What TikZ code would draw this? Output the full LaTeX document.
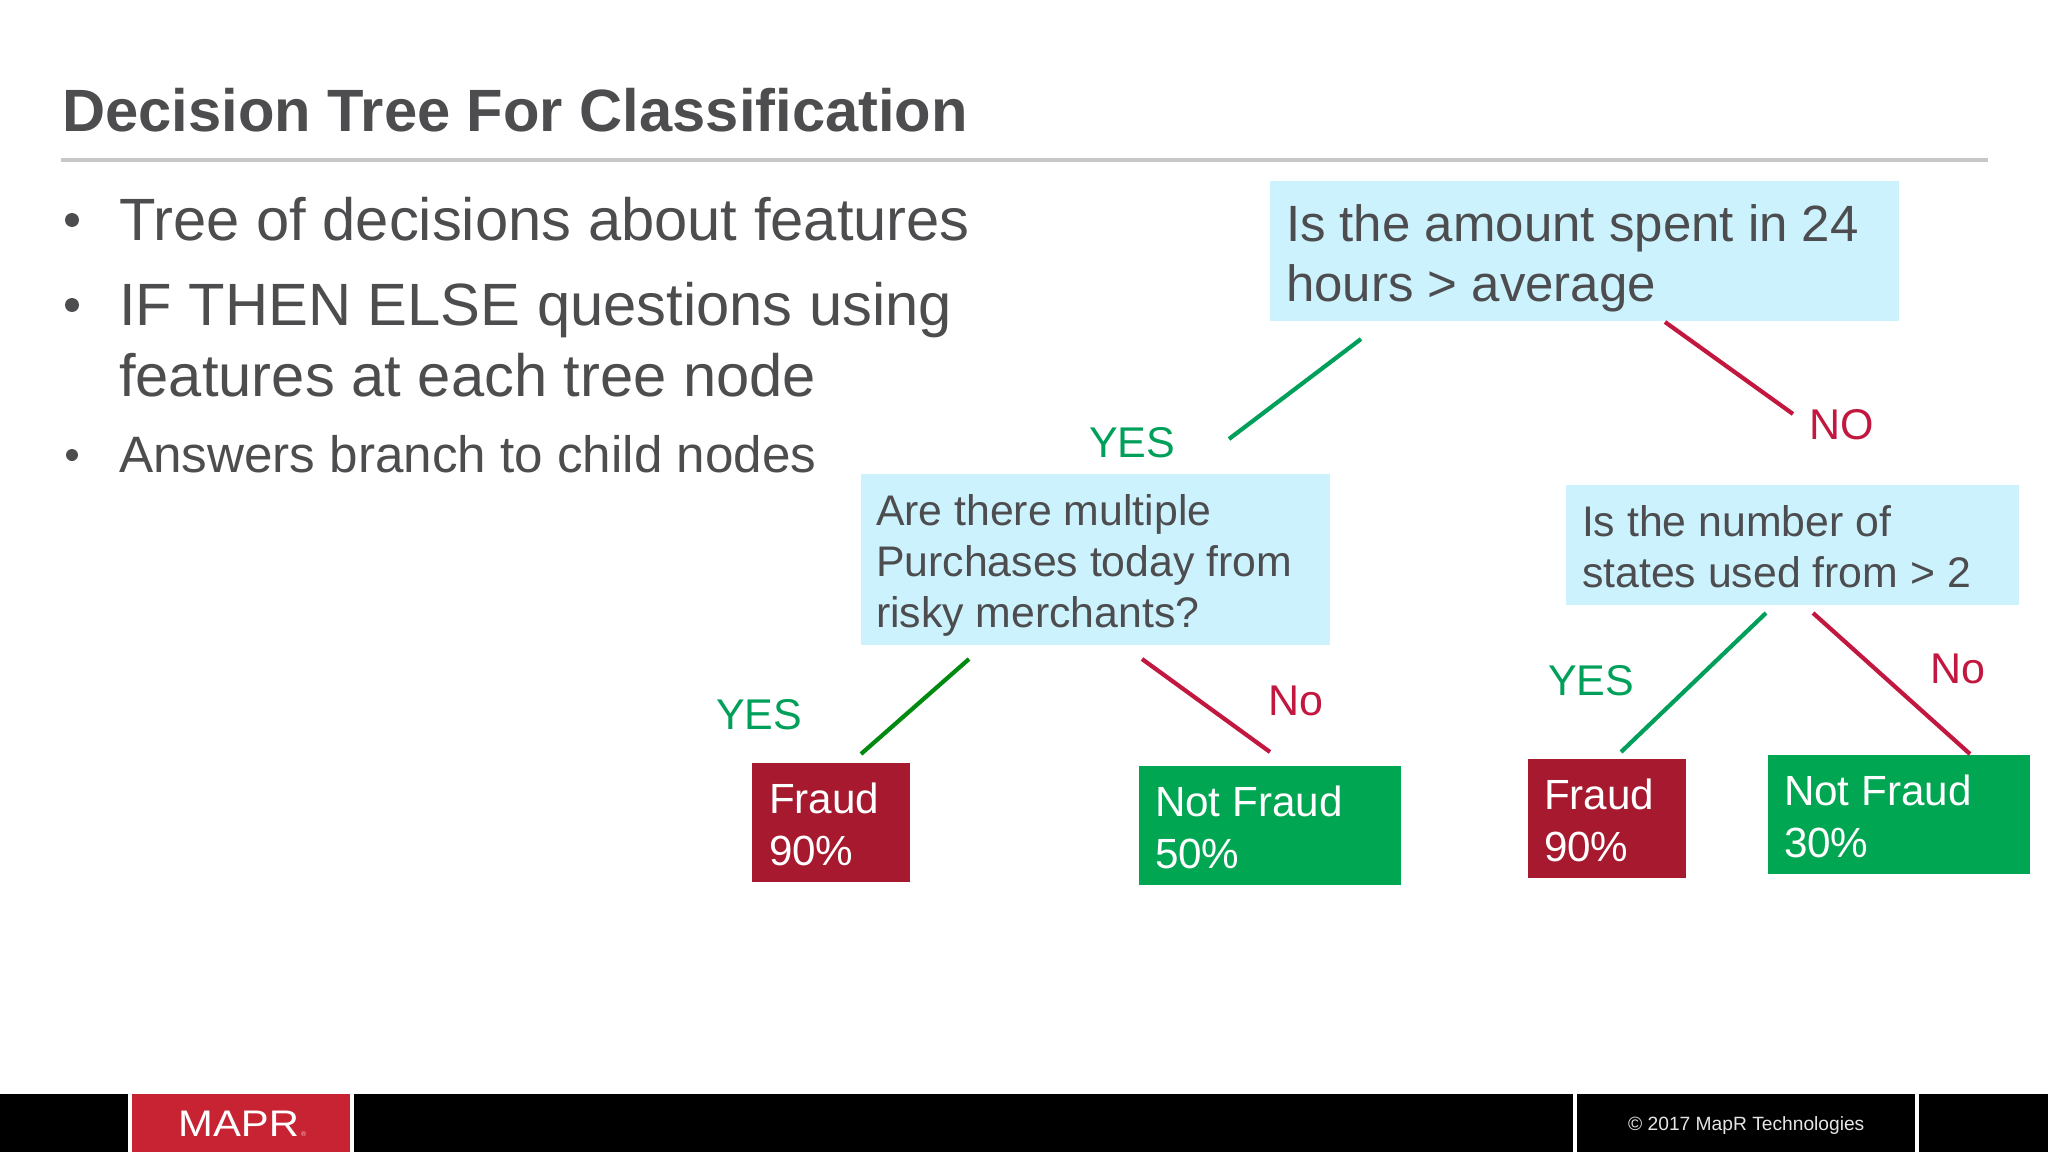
\documentclass[tikz,border=0pt]{standalone}
\usepackage{fontspec}
\setmainfont{Liberation Sans}
\definecolor{inkgray}{HTML}{4D4D4F}
\definecolor{rulegray}{HTML}{C8C8C8}
\definecolor{qblue}{HTML}{CCF2FE}
\definecolor{yesgreen}{HTML}{00A05A}
\definecolor{darkline}{HTML}{008A10}
\definecolor{nored}{HTML}{C2183F}
\definecolor{fraudred}{HTML}{A6192E}
\definecolor{okgreen}{HTML}{00A651}
\definecolor{logored}{HTML}{C82333}
\newcommand{\fs}[2]{\fontsize{#1}{#2}\selectfont}
\tikzset{
  x=1pt,y=-1pt,
  titletext/.style={anchor=base west,inner sep=0pt,text=inkgray,font=\fs{59.7}{60}\bfseries},
  bullettext/.style={anchor=base west,inner sep=0pt,text=inkgray,font=\fs{59.7}{60}},
  smalltext/.style={anchor=base west,inner sep=0pt,text=inkgray,font=\fs{51.2}{60}},
  dot/.style={circle,fill=inkgray,inner sep=0pt,minimum size=#1},
  qlarge/.style={rectangle,fill=qblue,text=inkgray,align=flush left,inner xsep=0pt,inner ysep=0pt,font=\fs{51}{60}},
  qmid/.style={rectangle,fill=qblue,text=inkgray,align=flush left,inner xsep=0pt,inner ysep=0pt,font=\fs{42.8}{51}},
  leaf/.style={rectangle,text=white,align=flush left,inner xsep=0pt,inner ysep=0pt,font=\fs{42.2}{52}},
  yeslabel/.style={anchor=base west,inner sep=0pt,text=yesgreen,font=\fs{43}{50}},
  nolabel/.style={anchor=base west,inner sep=0pt,text=nored,font=\fs{43}{50}},
  yesline/.style={draw=yesgreen,line width=4.2pt},
  darkyes/.style={draw=darkline,line width=4.2pt},
  noline/.style={draw=nored,line width=4.2pt},
}
\begin{document}
\begin{tikzpicture}
\useasboundingbox (0,0) rectangle (2048,1153);
\fill[white] (0,0) rectangle (2048,1153);
% title
\node[titletext] (title) at (62,131.5) {Decision Tree For Classification};
\coordinate (ruleL) at (61,160);
\coordinate (ruleR) at (1988,160);
\draw[rulegray,line width=3.5pt] (ruleL) -- (ruleR);
% bullets
\node[dot=14pt] (b1) at (72,220) {};
\node[bullettext] (t1) at (119,240) {Tree of decisions about features};
\node[dot=14pt] (b2) at (72,305) {};
\node[bullettext] (t2) at (119,325) {IF THEN ELSE questions using};
\node[bullettext] (t3) at (119,396) {features at each tree node};
\node[dot=12pt] (b3) at (72,455) {};
\node[smalltext] (t4) at (119,472) {Answers branch to child nodes};
% question boxes
\node[qlarge,minimum width=629pt,minimum height=140pt,text width=597pt] (q1) at (1584.5,251) {\rule{0pt}{52pt}Is the amount spent in 24\\hours > average};
\node[qmid,minimum width=469pt,minimum height=171pt,text width=439pt] (q2) at (1095.5,559.5) {\rule{0pt}{42pt}Are there multiple\\Purchases today from\\risky merchants?};
\node[qmid,minimum width=453pt,minimum height=120pt,text width=421pt] (q3) at (1792.5,545) {\rule{0pt}{34pt}Is the number of\\states used from > 2};
% leaves
\node[leaf,fill=fraudred,minimum width=158pt,minimum height=119pt,text width=124pt] (f1) at (831,822.5) {\rule{0pt}{34pt}Fraud\\90\%};
\node[leaf,fill=okgreen,minimum width=262pt,minimum height=119pt,text width=230pt] (n1) at (1270,825.5) {\rule{0pt}{34pt}Not Fraud\\50\%};
\node[leaf,fill=fraudred,minimum width=158pt,minimum height=119pt,text width=126pt] (f2) at (1607,818.5) {\rule{0pt}{34pt}Fraud\\90\%};
\node[leaf,fill=okgreen,minimum width=262pt,minimum height=119pt,text width=230pt] (n2) at (1899,814.5) {\rule{0pt}{34pt}Not Fraud\\30\%};
% connector ends
\coordinate (a1) at (1361,339); \coordinate (a2) at (1229,439);
\coordinate (b1e) at (1665,322); \coordinate (b2e) at (1793,414);
\coordinate (c1) at (969,659); \coordinate (c2) at (861,754);
\coordinate (d1) at (1142,659); \coordinate (d2) at (1270,752);
\coordinate (e1) at (1766,613); \coordinate (e2) at (1621,752);
\coordinate (g1) at (1813,613); \coordinate (g2) at (1970,754);
\draw[yesline] (a1) -- (a2);
\draw[noline] (b1e) -- (b2e);
\draw[darkyes] (c1) -- (c2);
\draw[noline] (d1) -- (d2);
\draw[yesline] (e1) -- (e2);
\draw[noline] (g1) -- (g2);
% branch labels
\node[yeslabel] (y1) at (1089,457) {YES};
\node[nolabel] (no1) at (1809,439) {NO};
\node[yeslabel] (y2) at (716,729) {YES};
\node[nolabel] (no2) at (1268,715) {No};
\node[yeslabel] (y3) at (1548,695) {YES};
\node[nolabel] (no3) at (1930,683) {No};
% footer
\fill[black] (0,1094) rectangle (128,1152);
\fill[logored] (132,1094) rectangle (350,1152);
\fill[black] (354,1094) rectangle (1573,1152);
\fill[black] (1577,1094) rectangle (1915,1152);
\fill[black] (1919,1094) rectangle (2048,1152);
\node[anchor=base west,inner sep=0pt,text=white,font=\fs{37}{40},xscale=1.13,transform shape] (logo) at (178,1136) {MAPR};
\node[anchor=base west,inner sep=0pt,text=white!70!logored,font=\fs{7}{8}] (reg) at (301,1136) {®};
\node[anchor=base west,inner sep=0pt,text=white!90!black,font=\fs{19.2}{22}] (copy) at (1628,1130) {© 2017 MapR Technologies};
\end{tikzpicture}
\end{document}
